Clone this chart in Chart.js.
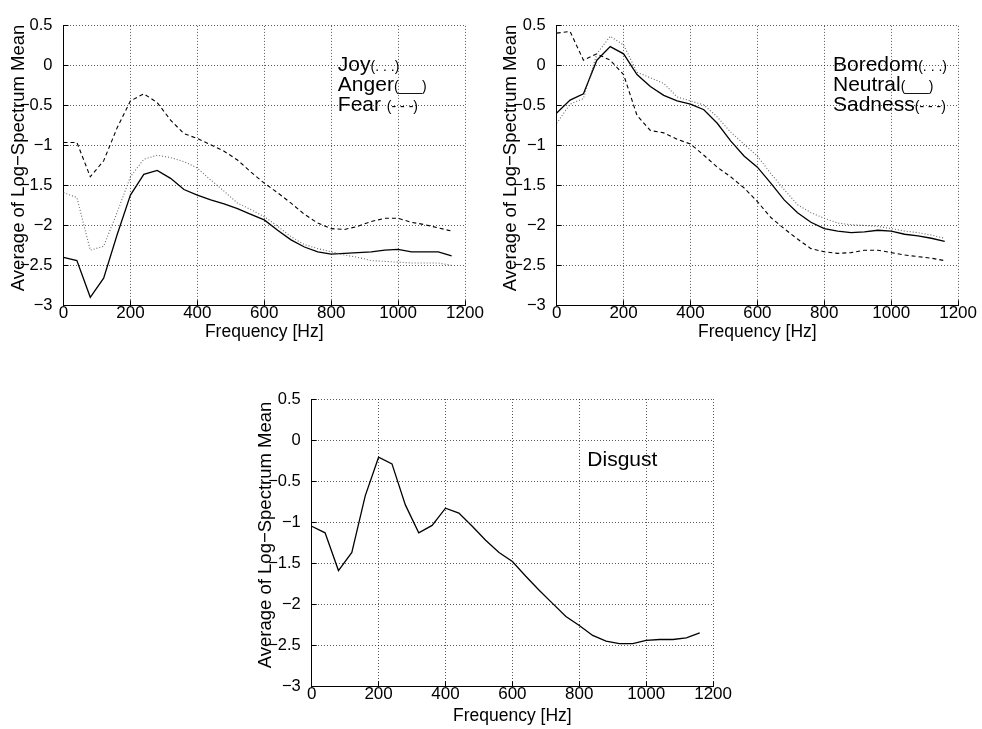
<!DOCTYPE html>
<html lang="en">
<head>
<meta charset="UTF-8">
<title>Average of Log-Spectrum Mean by emotion</title>
<script src="https://cdn.jsdelivr.net/npm/chart.js"></script>
<style>
  body { margin: 0; background: #fff; }
  #wrap { position: relative; width: 982px; height: 729px; overflow: hidden; }
  canvas { position: absolute; }
</style>
</head>
<body>
<div id="wrap">
  <canvas id="cTopLeft" width="490" height="345" style="left:0;top:0"></canvas>
  <canvas id="cTopRight" width="492" height="345" style="left:490px;top:0"></canvas>
  <canvas id="cBottom" width="492" height="359" style="left:245px;top:370px"></canvas>
</div>

<script>
// frequency bins [Hz]
const freqs = [0, 40, 80, 120, 160, 200, 240, 280, 320, 360, 400, 440, 480, 520, 560,
               600, 640, 680, 720, 760, 800, 840, 880, 920, 960, 1000, 1040, 1080, 1120, 1160];

const joy = [-1.59, -1.65, -2.31, -2.26, -1.84, -1.39, -1.17, -1.12, -1.15, -1.20, -1.28, -1.43, -1.57, -1.72, -1.80,
             -1.89, -2.01, -2.14, -2.24, -2.29, -2.33, -2.37, -2.40, -2.44, -2.45, -2.46, -2.47, -2.47, -2.47, -2.50];
const anger = [-2.40, -2.44, -2.90, -2.66, -2.12, -1.62, -1.36, -1.31, -1.41, -1.55, -1.62, -1.68, -1.73, -1.79, -1.86,
               -1.93, -2.06, -2.18, -2.27, -2.33, -2.36, -2.35, -2.34, -2.33, -2.31, -2.30, -2.33, -2.33, -2.33, -2.38];
const fear = [-0.96, -0.96, -1.39, -1.19, -0.78, -0.44, -0.35, -0.46, -0.68, -0.85, -0.91, -0.99, -1.07, -1.18, -1.33,
              -1.47, -1.59, -1.72, -1.86, -1.97, -2.04, -2.05, -2.01, -1.95, -1.91, -1.91, -1.96, -1.99, -2.03, -2.07];

const boredom = [-0.72, -0.48, -0.41, 0.15, 0.37, 0.26, -0.08, -0.15, -0.22, -0.39, -0.44, -0.49, -0.64, -0.83, -0.98,
                 -1.13, -1.35, -1.55, -1.74, -1.84, -1.91, -1.97, -1.99, -2.00, -2.01, -2.04, -2.07, -2.09, -2.12, -2.16];
const neutral = [-0.59, -0.43, -0.35, 0.07, 0.24, 0.15, -0.11, -0.26, -0.37, -0.44, -0.48, -0.55, -0.72, -0.94, -1.13,
                 -1.27, -1.47, -1.68, -1.84, -1.96, -2.04, -2.07, -2.09, -2.08, -2.06, -2.07, -2.11, -2.13, -2.16, -2.20];
const sadness = [0.41, 0.43, 0.07, 0.15, 0.07, -0.11, -0.62, -0.81, -0.84, -0.92, -0.98, -1.12, -1.27, -1.39, -1.53,
                 -1.70, -1.90, -2.04, -2.17, -2.29, -2.33, -2.35, -2.34, -2.31, -2.31, -2.34, -2.37, -2.39, -2.41, -2.44];

const disgust = [-1.05, -1.13, -1.59, -1.37, -0.68, -0.21, -0.29, -0.79, -1.13, -1.04, -0.83, -0.89, -1.05, -1.22, -1.37,
                 -1.48, -1.66, -1.83, -1.99, -2.15, -2.26, -2.38, -2.45, -2.48, -2.48, -2.44, -2.43, -2.43, -2.41, -2.35];

// axis ticks
const xTicks = [0, 200, 400, 600, 800, 1000, 1200];
const yTicks = [-3, -2.5, -2, -1.5, -1, -0.5, 0, 0.5];

const FONT = '"Liberation Sans", Arial, sans-serif';

const lineStyles = {
  solid:  { borderColor: '#000', borderWidth: 1.3, borderDash: [] },
  dashed: { borderColor: '#000', borderWidth: 1.1, borderDash: [4, 3] },
  dotted: { borderColor: '#666', borderWidth: 1.1, borderDash: [1, 2] }
};

function series(values, style) {
  return Object.assign({
    data: freqs.map((f, i) => ({ x: f, y: values[i] })),
    pointRadius: 0,
    tension: 0,
    fill: false
  }, lineStyles[style]);
}

// text labels written inside the axes (name + small line-style hint)
function notesPlugin(note) {
  return {
    id: 'notes',
    afterDatasetsDraw(chart) {
      const ctx = chart.ctx;
      const x0 = chart.scales.x.getPixelForValue(note.x);
      const y0 = chart.scales.y.getPixelForValue(note.y);
      ctx.save();
      ctx.fillStyle = '#000';
      ctx.textAlign = 'left';
      ctx.textBaseline = 'alphabetic';
      note.lines.forEach((ln, i) => {
        const y = y0 + i * 20;
        ctx.font = '21px ' + FONT;
        ctx.fillText(ln[0], x0, y);
        if (ln[1]) {
          const w = ctx.measureText(ln[0]).width;
          ctx.font = '14px ' + FONT;
          ctx.fillText(ln[1], x0 + w, y);
        }
      });
      ctx.restore();
    }
  };
}

function makeChart(id, area, titlePad, datasets, note) {
  const canvas = document.getElementById(id);
  const W = canvas.width, H = canvas.height;
  const xAxisH = 40;
  return new Chart(canvas, {
    type: 'line',
    data: { datasets: datasets },
    plugins: [notesPlugin(note)],
    options: {
      responsive: false,
      animation: false,
      layout: {
        padding: { left: 0, top: area.top, right: W - area.right, bottom: H - area.bottom - xAxisH }
      },
      plugins: { legend: { display: false }, tooltip: { enabled: false } },
      scales: {
        x: {
          type: 'linear',
          min: 0, max: 1200,
          afterFit: s => { s.height = xAxisH; },
          afterBuildTicks: s => { s.ticks = xTicks.map(v => ({ value: v })); },
          ticks: {
            color: '#000', padding: 5, maxRotation: 0, autoSkip: false,
            font: { family: FONT, size: 17, lineHeight: 1 },
            callback: v => String(v)
          },
          grid: { color: 'rgba(0,0,0,0.65)', lineWidth: 1, tickLength: -5, tickColor: '#000' },
          border: { display: true, color: '#000', width: 1, dash: [1, 2] },
          title: {
            display: true, text: 'Frequency [Hz]', color: '#000',
            font: { family: FONT, size: 17.5 }, padding: { top: 0, bottom: titlePad.x }
          }
        },
        y: {
          type: 'linear',
          min: -3, max: 0.5,
          afterFit: s => { s.width = area.left; },
          afterBuildTicks: s => { s.ticks = yTicks.map(v => ({ value: v })); },
          ticks: {
            color: '#000', padding: 16,
            font: { family: FONT, size: 16.5 },
            callback: v => String(v).replace('-', '\u2212')
          },
          grid: { color: 'rgba(0,0,0,0.65)', lineWidth: 1, tickLength: -5, tickColor: '#000' },
          border: { display: true, color: '#000', width: 1, dash: [1, 2] },
          title: {
            display: true, text: '\u00a0\u00a0\u00a0Average of Log\u2212Spectrum Mean', color: '#000',
            font: { family: FONT, size: 18.5 }, padding: { top: titlePad.y, bottom: 0 }
          }
        }
      }
    }
  });
}

makeChart('cTopLeft', { left: 63.5, top: 18.3, right: 465, bottom: 305.3 }, { x: 2.5, y: 8 },
  [series(joy, 'dotted'), series(anger, 'solid'), series(fear, 'dashed')],
  { x: 820, y: -0.07, lines: [['Joy', '(. . .)'], ['Anger', '(___)'], ['Fear ', '(- - -)']] });

makeChart('cTopRight', { left: 66.7, top: 18.3, right: 468.3, bottom: 305.3 }, { x: 2.5, y: 10 },
  [series(boredom, 'dotted'), series(neutral, 'solid'), series(sadness, 'dashed')],
  { x: 826, y: -0.07, lines: [['Boredom', '(. . .)'], ['Neutral', '(___)'], ['Sadness', '(- - -)']] });

makeChart('cBottom', { left: 66.7, top: 29, right: 468.3, bottom: 316.3 }, { x: 0, y: 10 },
  [series(disgust, 'solid')],
  { x: 824, y: -0.32, lines: [['Disgust', '']] });
</script>
</body>
</html>
